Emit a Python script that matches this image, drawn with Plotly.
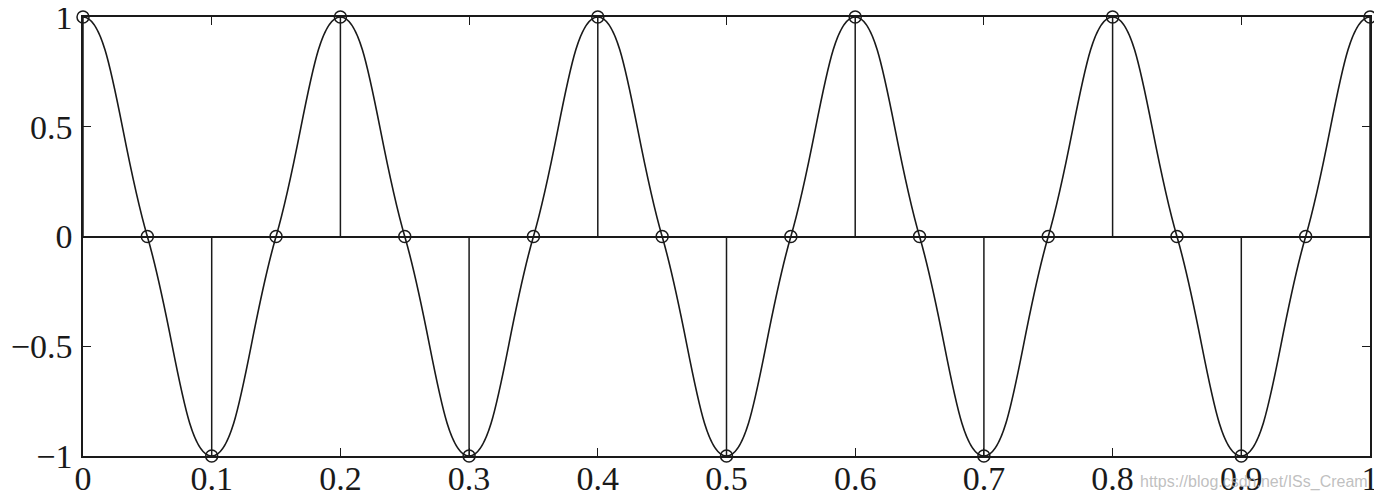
import plotly.graph_objects as go

# sample times and values of the sampled cosine
t = [0.00, 0.05, 0.10, 0.15, 0.20, 0.25, 0.30, 0.35, 0.40, 0.45, 0.50,
     0.55, 0.60, 0.65, 0.70, 0.75, 0.80, 0.85, 0.90, 0.95, 1.00]
v = [1, 0, -1, 0, 1, 0, -1, 0, 1, 0, -1,
     0, 1, 0, -1, 0, 1, 0, -1, 0, 1]

# continuous curve: same samples, continued one step past each edge (clipped)
curve_t = [-0.05] + t + [1.05]
curve_v = [0] + v + [0]

x_ticks = [0, 0.1, 0.2, 0.3, 0.4, 0.5, 0.6, 0.7, 0.8, 0.9, 1]
x_labels = ["0", "0.1", "0.2", "0.3", "0.4", "0.5", "0.6", "0.7", "0.8", "0.9", "1"]
y_ticks = [-1, -0.5, 0, 0.5, 1]
y_labels = ["\u22121", "\u22120.5", "0", "0.5", "1"]

ink = "#1a1a1a"

# stems built from the sample arrays
sx, sy = [], []
for ti, vi in zip(t, v):
    sx += [ti, ti, None]
    sy += [0, vi, None]

fig = go.Figure()
fig.add_trace(go.Scatter(x=curve_t, y=curve_v, mode="lines",
                         line=dict(color=ink, width=1.6, shape="spline", smoothing=1.3),
                         hoverinfo="skip"))
fig.add_trace(go.Scatter(x=sx, y=sy, mode="lines",
                         line=dict(color=ink, width=1.5), cliponaxis=False,
                         hoverinfo="skip"))
fig.add_trace(go.Scatter(x=t, y=v, mode="markers",
                         marker=dict(symbol="circle-open", size=12, color=ink,
                                     line=dict(width=1.5, color=ink)),
                         cliponaxis=False))

axis_common = dict(showline=True, linecolor=ink, linewidth=1.5, mirror="ticks",
                   ticks="inside", ticklen=8, tickwidth=1.2, tickcolor=ink,
                   showgrid=False, automargin=False, ticklabeloverflow="allow",
                   tickfont=dict(family="Liberation Serif", size=34, color=ink))

fig.update_xaxes(range=[0, 1], tickvals=x_ticks, ticktext=x_labels,
                 zeroline=False, ticklabelstandoff=-9, **axis_common)
fig.update_yaxes(range=[-1, 1], tickvals=y_ticks, ticktext=y_labels,
                 zeroline=True, zerolinecolor=ink, zerolinewidth=1.6,
                 ticklabelstandoff=2, **axis_common)

fig.add_annotation(text="https://blog.csdn.net/ISs_Cream", xref="paper", yref="paper",
                   x=1.0, y=-0.035, xanchor="right", yanchor="top", showarrow=False,
                   font=dict(family="Liberation Sans", size=16, color="rgba(175,175,175,0.8)"))

fig.update_layout(width=1382, height=500, showlegend=False,
                  margin=dict(l=75, r=20, t=9, b=52),
                  plot_bgcolor="white", paper_bgcolor="white")

fig.write_html("out.html")
